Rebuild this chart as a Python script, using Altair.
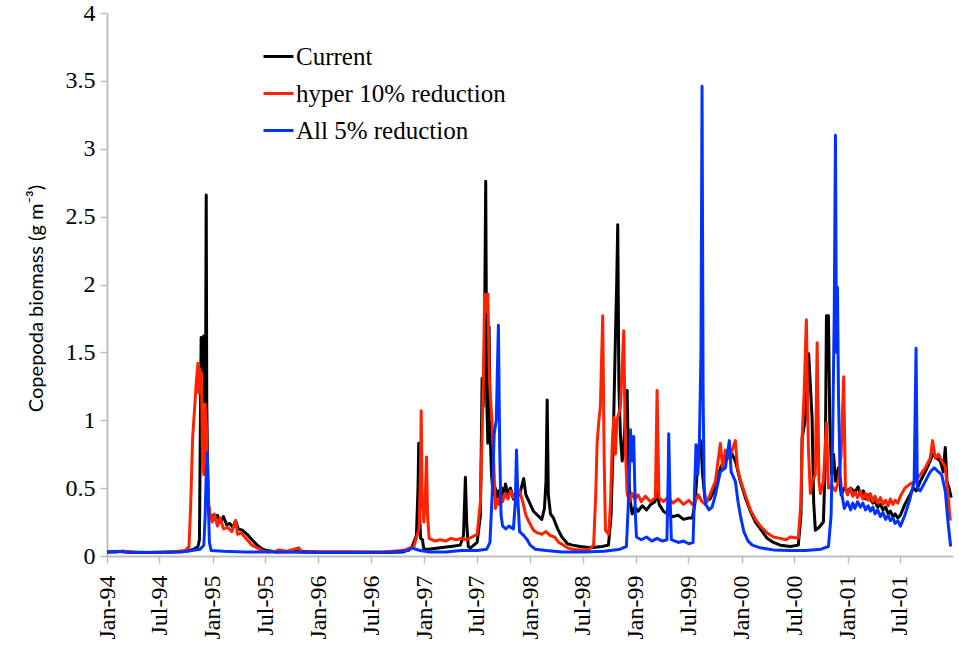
import altair as alt
import pandas as pd

series_names = ["Current", "hyper 10% reduction", "All 5% reduction"]
series_colors = ["#000000", "#FF2200", "#0033FF"]
y_ticks = [0, 0.5, 1, 1.5, 2, 2.5, 3, 3.5, 4]

# time in decimal years, biomass in g m-3
current_t = [1994.000, 1994.080, 1994.150, 1994.230, 1994.400, 1994.600, 1994.750, 1994.820, 1994.860, 1994.874,
             1994.884, 1994.890, 1994.896, 1994.902, 1994.908, 1994.914, 1994.920, 1994.926, 1994.932, 1994.938,
             1994.943, 1994.950, 1994.958, 1994.966, 1994.980, 1995.000, 1995.020, 1995.044, 1995.070, 1995.101,
             1995.130, 1995.160, 1995.190, 1995.215, 1995.240, 1995.280, 1995.325, 1995.370, 1995.420, 1995.470,
             1995.514, 1995.600, 1995.800, 1996.000, 1996.300, 1996.600, 1996.800, 1996.880, 1996.925, 1996.940,
             1996.947, 1996.955, 1996.965, 1996.982, 1996.995, 1997.039, 1997.150, 1997.250, 1997.340, 1997.370,
             1997.388, 1997.400, 1997.415, 1997.436, 1997.499, 1997.530, 1997.546, 1997.556, 1997.568, 1997.580,
             1997.590, 1997.600, 1997.612, 1997.622, 1997.635, 1997.650, 1997.672, 1997.690, 1997.703, 1997.720,
             1997.735, 1997.750, 1997.767, 1997.790, 1997.814, 1997.842, 1997.871, 1997.900, 1997.939, 1997.960,
             1997.990, 1998.031, 1998.070, 1998.110, 1998.135, 1998.150, 1998.161, 1998.172, 1998.192, 1998.220,
             1998.260, 1998.300, 1998.353, 1998.400, 1998.475, 1998.570, 1998.680, 1998.740, 1998.765, 1998.780,
             1998.790, 1998.806, 1998.818, 1998.828, 1998.839, 1998.853, 1998.870, 1998.885, 1998.901, 1998.917,
             1998.932, 1998.948, 1998.964, 1998.990, 1999.020, 1999.060, 1999.100, 1999.140, 1999.180, 1999.200,
             1999.220, 1999.260, 1999.300, 1999.350, 1999.400, 1999.450, 1999.500, 1999.534, 1999.560, 1999.590,
             1999.614, 1999.630, 1999.656, 1999.700, 1999.751, 1999.800, 1999.846, 1999.890, 1999.940, 1999.987,
             2000.034, 2000.082, 2000.130, 2000.176, 2000.240, 2000.300, 2000.365, 2000.460, 2000.535, 2000.560,
             2000.571, 2000.600, 2000.633, 2000.665, 2000.680, 2000.696, 2000.730, 2000.772, 2000.790, 2000.801,
             2000.820, 2000.832, 2000.850, 2000.868, 2000.886, 2000.914, 2000.940, 2000.970, 2001.000, 2001.030,
             2001.070, 2001.100, 2001.122, 2001.150, 2001.170, 2001.195, 2001.216, 2001.240, 2001.260, 2001.285,
             2001.311, 2001.335, 2001.360, 2001.385, 2001.405, 2001.430, 2001.450, 2001.475, 2001.500,
             2001.542, 2001.590, 2001.623, 2001.650, 2001.688, 2001.735, 2001.782, 2001.804, 2001.846, 2001.877,
             2001.905, 2001.924, 2001.940, 2001.960, 2001.980]
current_v = [0.03, 0.03, 0.035, 0.03, 0.025, 0.03, 0.035, 0.05, 0.07, 0.12,
             1.10, 1.61, 1.20, 1.60, 1.15, 1.62, 1.13, 1.60, 1.40, 2.66,
             1.13, 0.70, 0.40, 0.30, 0.28, 0.30, 0.27, 0.30, 0.25, 0.29,
             0.23, 0.24, 0.21, 0.26, 0.20, 0.19, 0.16, 0.12, 0.08, 0.05,
             0.04, 0.03, 0.035, 0.03, 0.03, 0.025, 0.03, 0.06, 0.15, 0.50,
             0.83, 0.30, 0.13, 0.12, 0.05, 0.05, 0.06, 0.07, 0.08, 0.15,
             0.58, 0.25, 0.07, 0.06, 0.10, 0.30, 1.31, 1.10, 1.55, 2.76,
             1.15, 0.83, 1.69, 0.90, 0.60, 0.45, 0.50, 0.40, 0.48, 0.42,
             0.50, 0.44, 0.53, 0.46, 0.50, 0.42, 0.48, 0.45, 0.57, 0.45,
             0.40, 0.33, 0.30, 0.27, 0.35, 0.55, 1.15, 0.45, 0.31, 0.28,
             0.20, 0.14, 0.09, 0.08, 0.07, 0.06, 0.07, 0.08, 0.30, 0.70,
             1.02, 1.60, 2.00, 2.44, 1.25, 0.90, 0.70, 0.80, 1.05, 1.22,
             0.58, 0.40, 0.31, 0.36, 0.33, 0.37, 0.34, 0.38, 0.40, 0.48,
             0.38, 0.33, 0.31, 0.29, 0.30, 0.27, 0.28, 0.28, 0.40, 0.75,
             0.85, 0.60, 0.40, 0.42, 0.50, 0.65, 0.72, 0.78, 0.70, 0.55,
             0.43, 0.33, 0.25, 0.20, 0.13, 0.10, 0.08, 0.07, 0.08, 0.30,
             0.87, 1.00, 1.49, 1.02, 0.40, 0.19, 0.21, 0.25, 0.70, 1.77,
             1.77, 1.00, 0.60, 0.75, 0.55, 0.65, 0.45, 0.50, 0.48, 0.50,
             0.47, 0.51, 0.45, 0.48, 0.42, 0.45, 0.42, 0.39, 0.40, 0.36,
             0.38, 0.34, 0.36, 0.31, 0.33, 0.29, 0.31, 0.28, 0.30,
             0.38, 0.45, 0.50, 0.48, 0.55, 0.62, 0.70, 0.75, 0.72, 0.70,
             0.62, 0.80, 0.55, 0.50, 0.43]

hyper_t = [1994.000, 1994.150, 1994.300, 1994.600, 1994.740, 1994.775, 1994.790, 1994.810, 1994.825, 1994.845,
           1994.860, 1994.868, 1994.876, 1994.884, 1994.893, 1994.903, 1994.915, 1994.928, 1994.940, 1994.950,
           1994.962, 1994.975, 1994.994, 1995.015, 1995.044, 1995.070, 1995.101, 1995.140, 1995.180, 1995.215,
           1995.235, 1995.270, 1995.325, 1995.370, 1995.420, 1995.470, 1995.514, 1995.600, 1995.624, 1995.700,
           1995.813, 1995.840, 1996.000, 1996.300, 1996.600, 1996.800, 1996.900, 1996.950, 1996.963, 1996.970,
           1996.980, 1996.995, 1997.010, 1997.020, 1997.030, 1997.045, 1997.100, 1997.150, 1997.200, 1997.250,
           1997.300, 1997.350, 1997.400, 1997.450, 1997.499, 1997.530, 1997.546, 1997.559, 1997.570, 1997.587,
           1997.600, 1997.615, 1997.630, 1997.644, 1997.660, 1997.672, 1997.690, 1997.703, 1997.720, 1997.740,
           1997.760, 1997.790, 1997.814, 1997.842, 1997.871, 1997.900, 1997.930, 1997.960, 1997.990, 1998.031,
           1998.070, 1998.110, 1998.150, 1998.190, 1998.230, 1998.270, 1998.315, 1998.353, 1998.400, 1998.475,
           1998.560, 1998.600, 1998.620, 1998.633, 1998.650, 1998.664, 1998.686, 1998.700, 1998.712, 1998.743,
           1998.760, 1998.775, 1998.790, 1998.806, 1998.820, 1998.853, 1998.885, 1998.900, 1998.917, 1998.940,
           1998.964, 1998.990, 1999.020, 1999.050, 1999.090, 1999.137, 1999.184, 1999.200, 1999.217, 1999.260,
           1999.300, 1999.350, 1999.400, 1999.450, 1999.500, 1999.534, 1999.560, 1999.590, 1999.625, 1999.656,
           1999.700, 1999.751, 1999.798, 1999.820, 1999.846, 1999.883, 1999.940, 1999.960, 1999.987, 2000.034,
           2000.082, 2000.130, 2000.176, 2000.240, 2000.300, 2000.365, 2000.420, 2000.460, 2000.535, 2000.560,
           2000.571, 2000.590, 2000.611, 2000.630, 2000.649, 2000.665, 2000.696, 2000.713, 2000.730, 2000.744,
           2000.772, 2000.801, 2000.820, 2000.850, 2000.886, 2000.914, 2000.940, 2000.964, 2000.980, 2001.000,
           2001.027, 2001.050, 2001.070, 2001.095, 2001.122, 2001.145, 2001.170, 2001.195, 2001.216, 2001.240,
           2001.260, 2001.285, 2001.311, 2001.335, 2001.360, 2001.385, 2001.405, 2001.430, 2001.450, 2001.475,
           2001.500, 2001.542, 2001.590, 2001.640, 2001.688, 2001.735, 2001.782, 2001.804, 2001.830, 2001.860,
           2001.890, 2001.924, 2001.950, 2001.971]
hyper_v = [0.03, 0.035, 0.025, 0.03, 0.04, 0.07, 0.35, 0.88, 1.05, 1.29,
           1.42, 1.20, 1.38, 1.25, 1.35, 0.70, 0.60, 1.12, 0.95, 0.60,
           0.38, 0.30, 0.25, 0.31, 0.22, 0.28, 0.20, 0.21, 0.18, 0.26,
           0.16, 0.17, 0.12, 0.08, 0.06, 0.04, 0.03, 0.035, 0.045, 0.035,
           0.06, 0.03, 0.03, 0.03, 0.03, 0.04, 0.07, 0.20, 0.60, 1.07,
           0.40, 0.25, 0.45, 0.73, 0.30, 0.13, 0.11, 0.12, 0.11, 0.13,
           0.12, 0.13, 0.12, 0.14, 0.16, 0.40, 0.90, 1.35, 1.93, 1.80,
           1.93, 1.30, 1.10, 0.93, 0.60, 0.35, 0.42, 0.38, 0.45, 0.40,
           0.46, 0.42, 0.48, 0.43, 0.44, 0.48, 0.40, 0.30, 0.25, 0.19,
           0.17, 0.16, 0.18, 0.15, 0.14, 0.10, 0.08, 0.06, 0.05, 0.045,
           0.05, 0.08, 0.45, 0.83, 1.00, 1.10, 1.77, 0.70, 0.19, 0.16,
           0.40, 0.80, 1.02, 0.75, 1.00, 1.09, 1.66, 0.80, 0.46, 0.40,
           0.46, 0.42, 0.45, 0.40, 0.44, 0.40, 0.43, 1.22, 0.43, 0.40,
           0.43, 0.39, 0.42, 0.38, 0.41, 0.38, 0.40, 0.45, 0.40, 0.38,
           0.45, 0.55, 0.83, 0.65, 0.78, 0.72, 0.85, 0.65, 0.56, 0.45,
           0.34, 0.27, 0.22, 0.17, 0.14, 0.13, 0.12, 0.14, 0.13, 0.40,
           0.87, 1.20, 1.74, 0.80, 0.46, 0.55, 0.60, 1.57, 0.55, 0.46,
           0.55, 0.98, 0.50, 0.52, 0.48, 0.55, 0.75, 1.32, 0.50, 0.45,
           0.50, 0.44, 0.47, 0.43, 0.48, 0.42, 0.46, 0.41, 0.46, 0.40,
           0.44, 0.39, 0.43, 0.38, 0.41, 0.37, 0.42, 0.38, 0.41, 0.39,
           0.44, 0.50, 0.53, 0.55, 0.60, 0.65, 0.72, 0.85, 0.72, 0.75,
           0.70, 0.66, 0.45, 0.26]

all5_t = [1994.000, 1994.100, 1994.200, 1994.500, 1994.700, 1994.800, 1994.880, 1994.915, 1994.928, 1994.938,
          1994.948, 1994.958, 1994.968, 1994.985, 1995.100, 1995.300, 1995.600, 1996.000, 1996.400, 1996.700,
          1996.850, 1996.880, 1996.920, 1996.960, 1997.050, 1997.200, 1997.350, 1997.500, 1997.590, 1997.620,
          1997.644, 1997.660, 1997.680, 1997.700, 1997.712, 1997.725, 1997.740, 1997.770, 1997.800, 1997.842,
          1997.860, 1997.871, 1997.885, 1997.900, 1997.940, 1997.972, 1998.000, 1998.050, 1998.150, 1998.300,
          1998.500, 1998.700, 1998.850, 1998.910, 1998.935, 1998.948, 1998.965, 1998.979, 1998.995, 1999.005,
          1999.050, 1999.100, 1999.150, 1999.200, 1999.250, 1999.293, 1999.305, 1999.310, 1999.320, 1999.335,
          1999.400, 1999.450, 1999.500, 1999.540, 1999.555, 1999.568, 1999.585, 1999.600, 1999.615, 1999.625,
          1999.635, 1999.645, 1999.660, 1999.690, 1999.720, 1999.751, 1999.798, 1999.846, 1999.883, 1999.900,
          1999.940, 1999.965, 1999.987, 2000.020, 2000.060, 2000.100, 2000.176, 2000.300, 2000.450, 2000.600,
          2000.750, 2000.820, 2000.845, 2000.860, 2000.875, 2000.886, 2000.896, 2000.905, 2000.915, 2000.930,
          2000.945, 2000.970, 2001.000, 2001.030, 2001.050, 2001.070, 2001.095, 2001.122, 2001.145, 2001.170,
          2001.195, 2001.216, 2001.240, 2001.260, 2001.285, 2001.311, 2001.335, 2001.360, 2001.385, 2001.405,
          2001.430, 2001.450, 2001.475, 2001.500, 2001.542, 2001.590, 2001.630, 2001.648, 2001.660, 2001.688,
          2001.735, 2001.782, 2001.820, 2001.860, 2001.890, 2001.924, 2001.950, 2001.975]
all5_v = [0.03, 0.035, 0.025, 0.025, 0.03, 0.04, 0.05, 0.08, 0.30, 0.60,
          0.76, 0.40, 0.10, 0.04, 0.035, 0.03, 0.03, 0.025, 0.025, 0.03,
          0.04, 0.06, 0.05, 0.04, 0.03, 0.03, 0.04, 0.04, 0.05, 0.10,
          0.50, 0.90, 1.00, 1.70, 0.80, 0.30, 0.22, 0.20, 0.22, 0.20,
          0.40, 0.78, 0.40, 0.18, 0.15, 0.12, 0.08, 0.05, 0.04, 0.03,
          0.03, 0.035, 0.05, 0.07, 0.50, 0.93, 0.70, 0.88, 0.30, 0.14,
          0.12, 0.14, 0.11, 0.13, 0.11, 0.12, 0.60, 0.90, 0.50, 0.12,
          0.10, 0.11, 0.09, 0.10, 0.50, 0.82, 0.60, 0.85, 1.50, 3.46,
          1.20, 0.50, 0.38, 0.34, 0.36, 0.45, 0.62, 0.65, 0.85, 0.62,
          0.55, 0.40, 0.30, 0.18, 0.11, 0.08, 0.06, 0.045, 0.04, 0.04,
          0.05, 0.07, 0.30, 0.90, 1.80, 3.10, 1.50, 1.98, 1.17, 0.60,
          0.46, 0.35, 0.40, 0.34, 0.39, 0.35, 0.40, 0.36, 0.39, 0.34,
          0.37, 0.33, 0.36, 0.31, 0.34, 0.29, 0.32, 0.27, 0.30, 0.26,
          0.28, 0.24, 0.26, 0.22, 0.30, 0.42, 0.55, 1.53, 0.50, 0.48,
          0.55, 0.62, 0.65, 0.62, 0.60, 0.48, 0.25, 0.07]


def to_frame(name, ts, vs):
    dates = pd.Timestamp("1994-01-01") + pd.to_timedelta([(t - 1994.0) * 365.25 for t in ts], unit="D")
    return pd.DataFrame({"date": dates.round("h"), "biomass": vs, "series": name})


df = pd.concat(
    [
        to_frame(series_names[0], current_t, current_v),
        to_frame(series_names[1], hyper_t, hyper_v),
        to_frame(series_names[2], all5_t, all5_v),
    ],
    ignore_index=True,
)

x_enc = alt.X(
    "date:T",
    title=None,
    scale=alt.Scale(domain=[alt.DateTime(year=1994, month=1, date=1),
                            alt.DateTime(year=2001, month=12, date=31)]),
    axis=alt.Axis(
        format="%b-%y",
        tickCount={"interval": "month", "step": 6},
        labelAngle=270,
        labelAlign="right",
        labelBaseline="middle",
        labelFont="Liberation Serif",
        labelFontSize=24,
        labelColor="#000000",
        labelPadding=12,
        labelOverlap=False,
        labelFlush=False,
        tickSize=7,
        tickColor="#BFBFBF",
        tickWidth=1.5,
        domainColor="#BFBFBF",
        domainWidth=2,
        grid=False,
    ),
)

y_enc = alt.Y(
    "biomass:Q",
    scale=alt.Scale(domain=[0, 4], nice=False),
    axis=alt.Axis(
        values=y_ticks,
        format=".1~f",
        labelFont="Liberation Serif",
        labelFontSize=24,
        labelColor="#000000",
        labelPadding=5,
        tickSize=7,
        tickColor="#BFBFBF",
        tickWidth=1.5,
        domainColor="#BFBFBF",
        domainWidth=2,
        grid=False,
        title="Copepoda biomass (g m\u207b\u00b3)",
        titleFont="Lato",
        titleFontSize=20,
        titleFontWeight="normal",
        titleColor="#000000",
        titleAngle=270,
        titleAlign="center",
        titleBaseline="middle",
        titleX=-71,
        titleY=285,
    ),
)

color_enc = alt.Color(
    "series:N",
    scale=alt.Scale(domain=series_names, range=series_colors),
    legend=alt.Legend(
        title=None,
        orient="none",
        legendX=155,
        legendY=27,
        direction="vertical",
        symbolType="stroke",
        symbolSize=900,
        symbolStrokeWidth=3,
        labelFont="Liberation Serif",
        labelFontSize=25,
        labelColor="#000000",
        labelLimit=0,
        labelOffset=1,
        rowPadding=7,
        padding=0,
    ),
)

layers = []
for name in series_names:
    layers.append(
        alt.Chart(df)
        .transform_filter(alt.datum.series == name)
        .mark_line(strokeWidth=3, strokeJoin="round")
        .encode(x=x_enc, y=y_enc, color=color_enc, order=alt.Order("date:T"))
    )

chart = (
    alt.layer(*layers)
    .properties(
        width=846,
        height=543,
        autosize=alt.AutoSizeParams(type="none"),
        padding={"left": 107, "top": 13, "right": 6, "bottom": 90},
        background="#FFFFFF",
    )
    .configure_view(strokeWidth=0)
)

chart.save("out.html", embed_options={"renderer": "svg", "actions": False})
